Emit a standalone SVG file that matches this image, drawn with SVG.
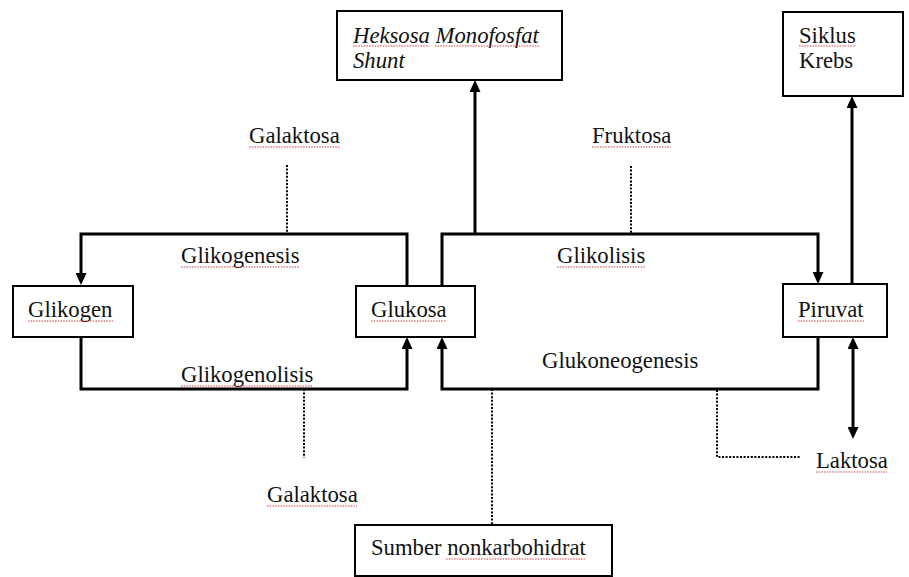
<svg xmlns="http://www.w3.org/2000/svg" width="909" height="577" viewBox="0 0 909 577">
<style>
.box{fill:#fff;stroke:#000;stroke-width:2}
text{font-family:'Liberation Serif','Times New Roman',serif;font-size:22.7px;fill:#111}
.it{font-style:italic}
.conn{fill:none;stroke:#000;stroke-width:3}
.dot{fill:none;stroke:#000;stroke-width:2;stroke-dasharray:2 1.6}
.sp{fill:none;stroke:#d23c3c;stroke-width:1;stroke-dasharray:1.5 1.2}
</style>
<defs>
<marker id="ah" markerUnits="userSpaceOnUse" markerWidth="12" markerHeight="11" refX="8" refY="5.5" orient="auto-start-reverse">
<path d="M0,0 L12,5.5 L0,11 z" fill="#000"/>
</marker>
</defs>
<rect width="909" height="577" fill="#fff"/>
<g id="connectors">
<path class="conn" d="M407,286 V234 H81 V281" marker-end="url(#ah)"/>
<path class="conn" d="M81,337 V389 H407 V341" marker-end="url(#ah)"/>
<path class="conn" d="M442,286 V234 H818 V280" marker-end="url(#ah)"/>
<path class="conn" d="M818,337 V389 H442 V341" marker-end="url(#ah)"/>
<path class="conn" d="M475,234 V84" marker-end="url(#ah)"/>
<path class="conn" d="M852,284 V100" marker-end="url(#ah)"/>
<path class="conn" d="M853,341 V435" marker-start="url(#ah)" marker-end="url(#ah)"/>
<path class="dot" d="M287,165 V234"/>
<path class="dot" d="M631,166 V234"/>
<path class="dot" d="M304,389 V458"/>
<path class="dot" d="M492,389 V525"/>
<path class="dot" d="M717,390 V457 H801"/>
</g>
<g id="heksosa">
<rect class="box" x="337" y="11" width="225" height="69"/>
<text class="it" x="353" y="43">Heksosa Monofosfat</text>
<text class="it" x="353" y="68">Shunt</text>
<path class="sp" d="M353,46 H429 M435,46 H539"/>
</g>
<g id="siklus-krebs">
<rect class="box" x="783" y="12" width="120" height="84"/>
<text x="799" y="43">Siklus</text>
<text x="799" y="68">Krebs</text>
<path class="sp" d="M799,46 H856"/>
</g>
<g id="glikogen">
<rect class="box" x="13" y="286" width="120" height="51"/>
<text x="28" y="317">Glikogen</text>
<path class="sp" d="M28,321 H113"/>
</g>
<g id="glukosa">
<rect class="box" x="356" y="286" width="119" height="51"/>
<text x="371" y="317">Glukosa</text>
<path class="sp" d="M371,321 H446"/>
</g>
<g id="piruvat">
<rect class="box" x="783" y="284" width="104" height="53"/>
<text x="798" y="317">Piruvat</text>
<path class="sp" d="M798,321 H864"/>
</g>
<g id="sumber">
<rect class="box" x="355" y="525" width="257" height="51"/>
<text x="371" y="555">Sumber nonkarbohidrat</text>
<path class="sp" d="M446,559 H585"/>
</g>
<g id="galaktosa-top">
<text x="249" y="143">Galaktosa</text>
<path class="sp" d="M249,147 H340"/>
</g>
<g id="fruktosa">
<text x="592" y="143">Fruktosa</text>
<path class="sp" d="M592,147 H671"/>
</g>
<g id="galaktosa-bottom">
<text x="267" y="502">Galaktosa</text>
<path class="sp" d="M267,506 H357"/>
</g>
<g id="laktosa">
<text x="816" y="468">Laktosa</text>
<path class="sp" d="M816,472 H887"/>
</g>
<g id="labels">
<text x="181" y="263">Glikogenesis</text>
<path class="sp" d="M181,267 H299"/>
<text x="181" y="382">Glikogenolisis</text>
<path class="sp" d="M181,386 H313"/>
<text x="557" y="263">Glikolisis</text>
<path class="sp" d="M557,267 H646"/>
<text x="542" y="368">Glukoneogenesis</text>
</g>
</svg>
